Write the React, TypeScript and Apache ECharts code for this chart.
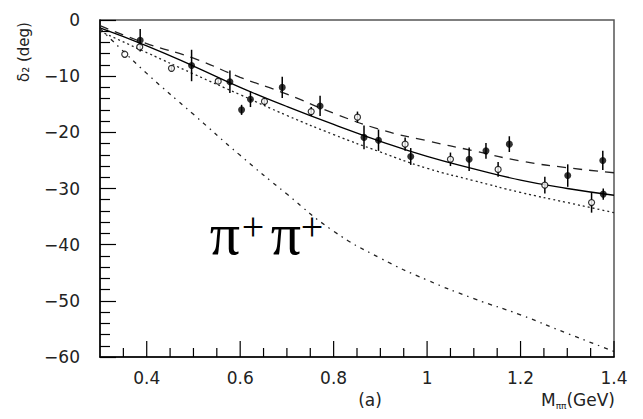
import React, { useEffect, useRef } from "react";
import * as echarts from "echarts";

const curveX = [0.3, 0.4, 0.5, 0.6, 0.7, 0.8, 0.9, 1.0, 1.1, 1.2, 1.3, 1.4];
const solidY = [-1.4, -4.6, -8.2, -12.0, -15.4, -18.6, -21.6, -24.3, -26.5, -28.5, -30.0, -31.2];
const dashedY = [-1.0, -4.2, -6.8, -10.2, -13.2, -16.6, -19.5, -21.5, -23.3, -25.1, -26.3, -27.2];
const dottedY = [-2.0, -5.8, -9.6, -13.3, -17.0, -20.4, -23.5, -26.4, -28.6, -30.7, -32.5, -34.3];
const dashDotY = [-1.5, -9.5, -16.8, -24.1, -31.0, -37.6, -42.4, -46.3, -49.6, -52.5, -55.8, -59.0];

const filledX = [0.386, 0.496, 0.578, 0.603, 0.622, 0.69, 0.771, 0.865, 0.896, 0.965, 1.09, 1.126, 1.176, 1.301, 1.376, 1.377];
const filledY = [-3.6, -8.1, -11.0, -16.0, -14.1, -12.0, -15.3, -20.9, -21.4, -24.3, -24.8, -23.3, -22.1, -27.7, -25.0, -31.0];
const filledErr = [2.0, 2.8, 2.0, 0.9, 1.4, 1.9, 1.8, 2.1, 1.9, 1.5, 2.1, 1.4, 1.4, 2.0, 1.7, 1.0];

const openX = [0.353, 0.385, 0.453, 0.553, 0.652, 0.752, 0.851, 0.953, 1.05, 1.152, 1.252, 1.352];
const openY = [-6.1, -4.8, -8.6, -10.9, -14.5, -16.3, -17.3, -22.1, -24.8, -26.6, -29.4, -32.5];
const openErr = [0, 0, 0.5, 0.5, 0.7, 0.8, 1.0, 1.2, 1.2, 1.3, 1.5, 1.8];

const xLabels = [0.4, 0.6, 0.8, 1.0, 1.2, 1.4];
const xMinorTicks = [0.35, 0.45, 0.5, 0.55, 0.65, 0.7, 0.75, 0.85, 0.9, 0.95, 1.05, 1.1, 1.15, 1.25, 1.3, 1.35];

const FONT = "DejaVu Sans";

function pairs(xs: number[], ys: number[]) {
  return xs.map((x, i) => [x, ys[i]]);
}
function triples(xs: number[], ys: number[], es: number[]) {
  return xs.map((x, i) => [x, ys[i], es[i]]);
}

function errRender(params: any, api: any) {
  const x = api.value(0);
  const y = api.value(1);
  const e = api.value(2);
  if (!e) return null;
  const p1 = api.coord([x, y + e]);
  const p2 = api.coord([x, y - e]);
  return {
    type: "line",
    shape: { x1: p1[0], y1: p1[1], x2: p2[0], y2: p2[1] },
    style: { stroke: "#000", lineWidth: 1.5 },
  };
}

function tickRender(params: any, api: any) {
  const p = api.coord([api.value(0), -60]);
  const len = api.value(1);
  return {
    type: "line",
    shape: { x1: p[0], y1: p[1], x2: p[0], y2: p[1] - len },
    style: { stroke: "#000", lineWidth: 1.2 },
  };
}

export default function App() {
  const ref = useRef<HTMLDivElement>(null);
  useEffect(() => {
    if (!ref.current) return;
    const chart = echarts.init(ref.current, null, { renderer: "svg" });
    const lineBase = { type: "line", smooth: true, symbol: "none", silent: true, z: 2 } as any;
    const tickData = [...xLabels.map((v) => [v, 16]), ...xMinorTicks.map((v) => [v, 9])];
    chart.setOption({
      animation: false,
      backgroundColor: "#fff",
      grid: { left: 100, top: 20, right: 29, bottom: 62, show: true, borderColor: "#555", borderWidth: 1.5 },
      xAxis: {
        type: "value",
        min: 0.3,
        max: 1.4,
        interval: 0.1,
        axisLine: { show: true, onZero: false, lineStyle: { color: "#000", width: 1.5 } },
        axisTick: { show: false },
        axisLabel: {
          margin: 12,
          fontFamily: FONT,
          fontSize: 17,
          color: "#222",
          formatter: (v: number) => {
            const r = Math.round(v * 10);
            return r % 2 === 0 ? String(r / 10) : "";
          },
        },
        splitLine: { show: false },
      },
      yAxis: {
        type: "value",
        min: -60,
        max: 0,
        interval: 10,
        axisLine: { show: true, onZero: false, lineStyle: { color: "#000", width: 1.5 } },
        axisTick: { show: true, inside: true, length: 16, lineStyle: { color: "#000", width: 1.2 } },
        minorTick: { show: true, splitNumber: 5, length: 10, lineStyle: { color: "#000", width: 1.2 } },
        axisLabel: {
          margin: 20,
          fontFamily: FONT,
          fontSize: 17,
          color: "#222",
          formatter: (v: number) => (v < 0 ? "\u2212" + Math.abs(v) : String(v)),
        },
        splitLine: { show: false },
      },
      series: [
        { type: "custom", name: "xTicks", renderItem: tickRender, data: tickData, encode: { x: 0 }, clip: false, silent: true, z: 5 },
        { ...lineBase, name: "solid", data: pairs(curveX, solidY), lineStyle: { color: "#000", width: 1.3, type: "solid" } },
        { ...lineBase, name: "dashed", data: pairs(curveX, dashedY), lineStyle: { color: "#222", width: 1.3, type: [9, 7] } },
        { ...lineBase, name: "dotted", data: pairs(curveX, dottedY), lineStyle: { color: "#222", width: 1.3, type: [2, 3] } },
        { ...lineBase, name: "dashdot", data: pairs(curveX, dashDotY), lineStyle: { color: "#222", width: 1.3, type: [4, 5, 1.5, 5] } },
        { type: "custom", name: "errFilled", renderItem: errRender, data: triples(filledX, filledY, filledErr), encode: { x: 0, y: 1 }, z: 3, silent: true },
        { type: "custom", name: "errOpen", renderItem: errRender, data: triples(openX, openY, openErr), encode: { x: 0, y: 1 }, z: 3, silent: true },
        { type: "scatter", name: "filled", data: pairs(filledX, filledY), symbol: "circle", symbolSize: 7, itemStyle: { color: "#000" }, z: 4 },
        {
          type: "scatter",
          name: "open",
          data: pairs(openX, openY),
          symbol: "circle",
          symbolSize: 6,
          itemStyle: { color: "#fff", borderColor: "#000", borderWidth: 1.2 },
          z: 4,
        },
      ],
      graphic: [
        {
          type: "text",
          x: 24,
          y: 52,
          rotation: Math.PI / 2,
          style: { text: "\u03b4\u2082 (deg)", fontFamily: FONT, fontSize: 15, fill: "#222", align: "center", verticalAlign: "middle" },
        },
        {
          type: "text",
          x: 370,
          y: 400,
          style: { text: "(a)", fontFamily: FONT, fontSize: 17, fill: "#222", align: "center", verticalAlign: "middle" },
        },
        {
          type: "text",
          x: 615,
          y: 400,
          style: {
            text: "{m|M}{s|\u03c0\u03c0}{m|(GeV)}",
            align: "right",
            verticalAlign: "middle",
            rich: {
              m: { fontFamily: FONT, fontSize: 17, fill: "#222", lineHeight: 20 },
              s: { fontFamily: FONT, fontSize: 9, fill: "#222", lineHeight: 9, verticalAlign: "bottom" },
            },
          },
        },
        { type: "text", x: 225, y: 234, style: { text: "\u03c0", fontFamily: "Liberation Serif", fontSize: 60, fill: "#000", align: "center", verticalAlign: "middle" } },
        { type: "text", x: 253, y: 226, style: { text: "+", fontFamily: "Liberation Serif", fontSize: 40, fill: "#000", align: "center", verticalAlign: "middle" } },
        { type: "text", x: 286, y: 234, style: { text: "\u03c0", fontFamily: "Liberation Serif", fontSize: 60, fill: "#000", align: "center", verticalAlign: "middle" } },
        { type: "text", x: 312, y: 226, style: { text: "+", fontFamily: "Liberation Serif", fontSize: 40, fill: "#000", align: "center", verticalAlign: "middle" } },
      ],
    });
    return () => chart.dispose();
  }, []);
  return <div ref={ref} style={{ width: 643, height: 419, position: "absolute", left: 0, top: 0 }} />;
}
